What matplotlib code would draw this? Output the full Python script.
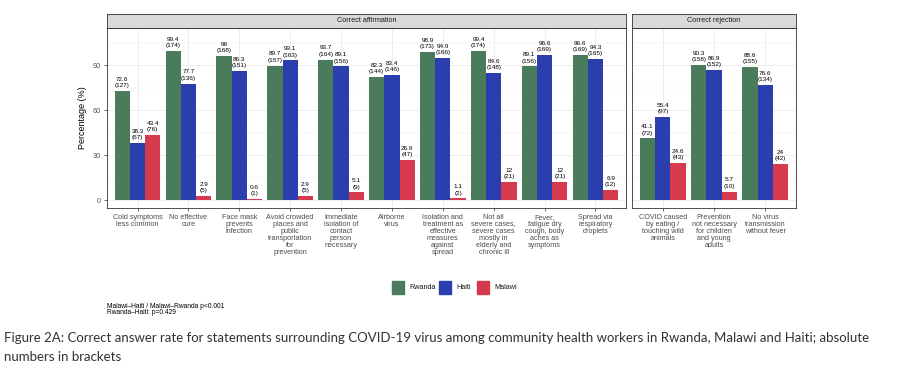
import numpy as np
import matplotlib
matplotlib.use("Agg")
import matplotlib.pyplot as plt
from matplotlib.patches import Rectangle

plt.rcParams['font.family'] = ['Liberation Sans', 'DejaVu Sans']

# Correct affirmation
aff_labels = ["Cold symptoms\nless common", "No effective\ncure", "Face mask\nprevents\ninfection",
              "Avoid crowded\nplaces and\npublic\ntransportation\nfor\nprevention",
              "Immediate\nisolation of\ncontact\nperson\nnecessary", "Airborne\nvirus",
              "Isolation and\ntreatment as\neffective\nmeasures\nagainst\nspread",
              "Not all\nsevere cases,\nsevere cases\nmostly in\nelderly and\nchronic ill",
              "Fever,\nfatigue dry\ncough, body\naches as\nsymptoms",
              "Spread via\nrespiratory\ndroplets"]
aff_rwanda = [72.6, 99.4, 96, 89.7, 93.7, 82.3, 98.9, 99.4, 89.1, 96.6]
aff_rwanda_n = [127, 174, 168, 157, 164, 144, 173, 174, 156, 169]
aff_haiti = [38.3, 77.7, 86.3, 93.1, 89.1, 83.4, 94.9, 84.6, 96.6, 94.3]
aff_haiti_n = [67, 136, 151, 163, 156, 146, 166, 148, 169, 165]
aff_malawi = [43.4, 2.9, 0.6, 2.9, 5.1, 26.9, 1.1, 12, 12, 6.9]
aff_malawi_n = [76, 5, 1, 5, 9, 47, 2, 21, 21, 12]

# Correct rejection
rej_labels = ["COVID caused\nby eating /\ntouching wild\nanimals",
              "Prevention\nnot necessary\nfor children\nand young\nadults",
              "No virus\ntransmission\nwithout fever"]
rej_rwanda = [41.1, 90.3, 88.6]
rej_rwanda_n = [72, 158, 155]
rej_haiti = [55.4, 86.9, 76.6]
rej_haiti_n = [97, 152, 134]
rej_malawi = [24.6, 5.7, 24]
rej_malawi_n = [43, 10, 42]

countries = ["Rwanda", "Haiti", "Malawi"]
colors = ["#4A7C5C", "#2B3EAE", "#D63A4E"]

W, H = 902, 383
fig = plt.figure(figsize=(W / 100, H / 100), dpi=100)


def fx(px):
    return px / W


def fy(py):
    return 1 - py / H


top, bottom, strip_top = 28, 208, 14


def panel(x0, x1, labels, series, counts, title):
    ax = fig.add_axes([fx(x0), fy(bottom), fx(x1) - fx(x0), fy(top) - fy(bottom)])
    n = len(labels)
    x = np.arange(n)
    for i, (vals, ns) in enumerate(zip(series, counts)):
        pos = x + (i - 1) * 0.3
        ax.bar(pos, vals, width=0.3, color=colors[i], zorder=2)
        for p, v, c in zip(pos, vals, ns):
            ax.text(p, v + 1.8, f"{v:g}\n({c})", ha="center", va="bottom",
                    fontsize=4.6, linespacing=1.35, zorder=3)
    ax.set_xlim(-0.6, n - 0.4)
    ax.set_ylim(-5.3, 114.7)
    ax.set_yticks([0, 30, 60, 90])
    ax.set_yticks([15, 45, 75, 105], minor=True)
    ax.set_xticks(x)
    ax.set_xticklabels(labels, fontsize=5.2, color="#4D4D4D", linespacing=1.0)
    ax.tick_params(axis="both", which="major", length=2.5, width=0.5, color="#333333",
                   labelsize=5.2, labelcolor="#4D4D4D", pad=2)
    ax.tick_params(axis="both", which="minor", length=0)
    ax.grid(which="major", color="#EBEBEB", linewidth=0.6, zorder=0)
    ax.grid(which="minor", axis="y", color="#EBEBEB", linewidth=0.3, zorder=0)
    ax.set_axisbelow(True)
    for s in ax.spines.values():
        s.set_color("#333333")
        s.set_linewidth(0.6)
    # facet strip
    sax = fig.add_axes([fx(x0), fy(top), fx(x1) - fx(x0), fy(strip_top) - fy(top)])
    sax.set_facecolor("#D9D9D9")
    sax.set_xticks([])
    sax.set_yticks([])
    for s in sax.spines.values():
        s.set_color("#333333")
        s.set_linewidth(0.6)
    sax.text(0.5, 0.5, title, ha="center", va="center", fontsize=5.2, color="#1A1A1A",
             transform=sax.transAxes)
    return ax


ax1 = panel(107, 626, aff_labels, [aff_rwanda, aff_haiti, aff_malawi],
            [aff_rwanda_n, aff_haiti_n, aff_malawi_n], "Correct affirmation")
ax1.set_ylabel("Percentage (%)", fontsize=6.5, labelpad=4)

ax2 = panel(632, 796, rej_labels, [rej_rwanda, rej_haiti, rej_malawi],
            [rej_rwanda_n, rej_haiti_n, rej_malawi_n], "Correct rejection")
ax2.set_yticklabels([])
ax2.tick_params(axis="y", length=0)

# legend
key_x = [392, 439, 477]
for kx, name, col in zip(key_x, countries, colors):
    fig.patches.append(Rectangle((fx(kx), fy(294)), fx(12), 13 / H, color=col,
                                 transform=fig.transFigure, figure=fig))
    fig.text(fx(kx + 17), fy(287.5), name, fontsize=5.2, va="center", ha="left",
             color="#1A1A1A")

fig.text(fx(107), fy(306), "Malawi\u2013Haiti / Malawi\u2013Rwanda p<0.001", fontsize=4.8,
         va="center", ha="left")
fig.text(fx(107), fy(313), "Rwanda\u2013Haiti: p=0.429", fontsize=4.8, va="center", ha="left")

cap_font = dict(fontsize=9.5, family=["Lato", "DejaVu Sans"],
                color="#333333", va="center", ha="left")
fig.text(fx(4), fy(338), "Figure 2A: Correct answer rate for statements surrounding COVID-19 virus "
         "among community health workers in Rwanda, Malawi and Haiti; absolute", **cap_font)
fig.text(fx(4), fy(357), "numbers in brackets", **cap_font)

fig.savefig("out.png", dpi=100)
